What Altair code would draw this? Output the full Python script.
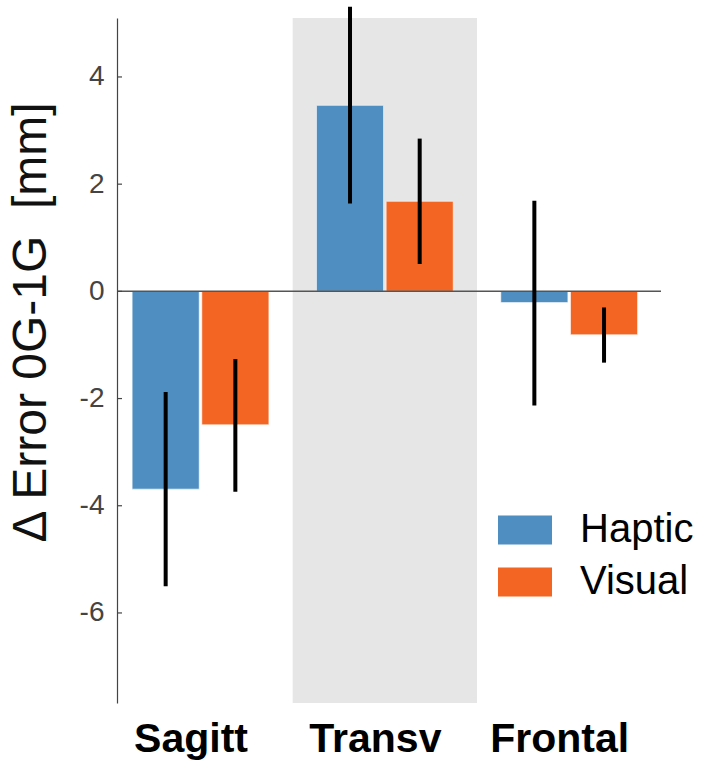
import altair as alt
import pandas as pd

categories = ["Sagitt", "Transv", "Frontal"]
conditions = ["Haptic", "Visual"]
haptic_mean = [-3.69, 3.47, -0.21]
visual_mean = [-2.49, 1.68, -0.81]
haptic_lo = [-5.50, 1.64, -2.13]
haptic_hi = [-1.88, 5.31, 1.69]
visual_lo = [-3.74, 0.51, -1.33]
visual_hi = [-1.26, 2.85, -0.30]
y_ticks = [-6, -4, -2, 0, 2, 4]
highlight_start = [1.5]
highlight_end = [2.5]

colors = ["#4f8ec1", "#f36522"]

rows = []
for i, c in enumerate(categories):
    rows.append({"cat": c, "pos": i + 1, "cond": "Haptic", "off": -0.189,
                 "mean": haptic_mean[i], "lo": haptic_lo[i], "hi": haptic_hi[i]})
    rows.append({"cat": c, "pos": i + 1, "cond": "Visual", "off": 0.189,
                 "mean": visual_mean[i], "lo": visual_lo[i], "hi": visual_hi[i]})
df = pd.DataFrame(rows)

W, H = 544, 685
FONT = "Liberation Sans"
xscale = alt.Scale(domain=[0.547, 3.498], nice=False, zero=False)
yscale = alt.Scale(domain=[-7.68, 5.10], nice=False, zero=False)

label_expr = "[" + ",".join("'%s'" % c for c in categories) + "][datum.value - 1]"

band = alt.Chart(pd.DataFrame({"s": highlight_start, "e": highlight_end})).mark_rect(
    color="#e6e6e6"
).encode(
    x=alt.X("s:Q", scale=xscale,
            axis=alt.Axis(values=[1, 2, 3], labelExpr=label_expr, title=None,
                          domain=False, ticks=False, grid=False,
                          labelFont=FONT, labelFontSize=41, labelFontWeight="bold",
                          labelColor="black", labelBaseline="alphabetic",
                          labelPadding=48, labelOffset=-10)),
    x2="e:Q",
    y=alt.value(0),
    y2=alt.value(H),
)

bars = alt.Chart(df).transform_calculate(
    x1="datum.pos + datum.off - 0.182",
    x2="datum.pos + datum.off + 0.182",
).mark_bar(stroke="white", strokeWidth=0.6).encode(
    x=alt.X("x1:Q", scale=xscale),
    x2="x2:Q",
    y=alt.Y("mean:Q", scale=yscale,
            axis=alt.Axis(values=y_ticks, title="Δ Error 0G-1G\u00a0 [mm]",
                          labelExpr="datum.value + ''",
                          grid=False, ticks=False, domain=True,
                          domainColor="#444", domainWidth=1.2,
                          labelFont=FONT, labelFontSize=28, labelColor="#444",
                          labelPadding=13,
                          titleFont=FONT, titleFontSize=48, titleFontWeight="normal",
                          titleColor="#111", titleAngle=270, titleBaseline="alphabetic",
                          titleAlign="center", titleX=-72, titleY=304)),
    y2=alt.datum(0),
    color=alt.Color("cond:N", scale=alt.Scale(domain=conditions, range=colors),
                    legend=alt.Legend(title=None, orient="none", legendX=381, legendY=485,
                                      labelFont=FONT, labelFontSize=40, labelColor="black",
                                      symbolType="M-1,-0.537H1V0.537H-1Z", symbolSize=2916,
                                      symbolStrokeWidth=0, symbolOpacity=1,
                                      labelOffset=28, rowPadding=5, padding=0)),
)

zero = alt.Chart(pd.DataFrame({"z": [0]})).mark_rule(color="#555", strokeWidth=1.5).encode(
    y=alt.Y("z:Q", scale=yscale),
    x=alt.value(0),
    x2=alt.value(W),
)

errs = alt.Chart(df).transform_calculate(
    xc="datum.pos + datum.off"
).mark_rule(color="black", strokeWidth=4).encode(
    x=alt.X("xc:Q", scale=xscale),
    y=alt.Y("lo:Q", scale=yscale),
    y2="hi:Q",
)

ticks = alt.Chart(pd.DataFrame({"t": y_ticks})).mark_rule(color="#444", strokeWidth=1.2).encode(
    y=alt.Y("t:Q", scale=yscale),
    x=alt.value(0),
    x2=alt.value(5),
)

chart = alt.layer(band, bars, zero, errs, ticks).properties(
    width=W, height=H,
    autosize=alt.AutoSizeParams(type="none"),
    padding={"left": 117, "top": 18, "right": 41, "bottom": 65},
).configure(background="white").configure_view(strokeWidth=0, stroke="transparent")

chart.save("out.html", embed_options={"renderer": "svg", "actions": False})
